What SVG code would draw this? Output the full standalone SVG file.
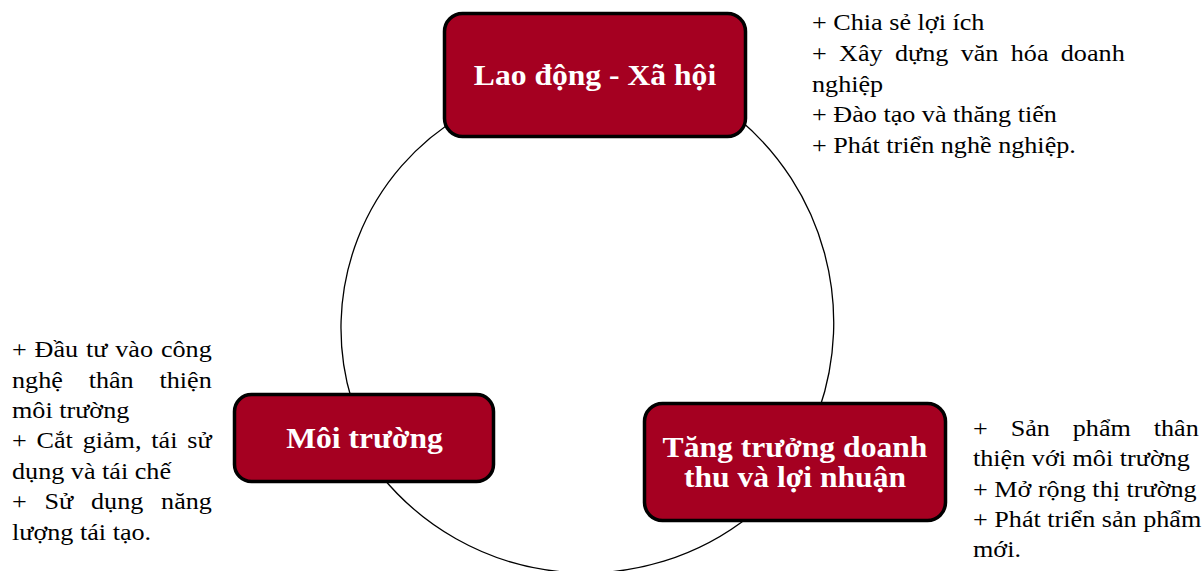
<svg xmlns="http://www.w3.org/2000/svg" width="1203" height="571" viewBox="0 0 1203 571">
<style>
.box{fill:#A50021;stroke:#000;stroke-width:3.5}
.conn{fill:none;stroke:#000;stroke-width:1.3}
.lbl{font-family:"Liberation Serif","Times New Roman",serif;font-weight:bold;font-size:29px;fill:#fff;text-anchor:middle}
.note{font-family:"Liberation Serif","Times New Roman","DejaVu Serif",serif;font-weight:normal;font-style:normal;font-size:24px;fill:#000}
</style>
<rect width="1203" height="571" fill="#fff"/>
<g id="connectors">
<path class="conn" d="M740,120 A266,266 0 0 1 819,410"/>
<path class="conn" d="M751,515 A264,264 0 0 1 380.7,475"/>
<path class="conn" d="M351.7,400 A247,247 0 0 1 463,115"/>
</g>
<g id="node-lao-dong">
<rect class="box" x="444.5" y="13.5" width="301" height="123" rx="18"/>
<text class="lbl" transform="translate(595,85) scale(1.09,1)" x="0" y="0">Lao động - Xã hội</text>
</g>
<g id="node-moi-truong">
<rect class="box" x="234.5" y="394.5" width="259" height="87" rx="17"/>
<text class="lbl" transform="translate(364.5,448) scale(1.09,1)" x="0" y="0">Môi trường</text>
</g>
<g id="node-tang-truong">
<rect class="box" x="644.5" y="403.5" width="301" height="117" rx="18"/>
<text class="lbl" transform="translate(795,0) scale(1.09,1)"><tspan x="0" y="457">Tăng trưởng doanh</tspan><tspan x="0" y="487">thu và lợi nhuận</tspan></text>
</g>
<g id="note-lao-dong" transform="translate(812,0) scale(1.09,1)" font-family="Liberation Serif, serif">
<text class="note" x="0" y="30">+ Chia sẻ lợi ích</text>
<text class="note" x="0" y="61" word-spacing="5.3">+ Xây dựng văn hóa doanh</text>
<text class="note" x="0" y="92">nghiệp</text>
<text class="note" x="0" y="122">+ Đào tạo và thăng tiến</text>
<text class="note" x="0" y="153">+ Phát triển nghề nghiệp.</text>
</g>
<g id="note-moi-truong" transform="translate(12,0) scale(1.09,1)">
<text class="note" x="0" y="357.5" word-spacing="1.2">+ Đầu tư vào công</text>
<text class="note" x="0" y="388" word-spacing="17.7">nghệ thân thiện</text>
<text class="note" x="0" y="418">môi trường</text>
<text class="note" x="0" y="448.5" word-spacing="3">+ Cắt giảm, tái sử</text>
<text class="note" x="0" y="479">dụng và tái chế</text>
<text class="note" x="0" y="509.5" word-spacing="10.3">+ Sử dụng năng</text>
<text class="note" x="0" y="540">lượng tái tạo.</text>
</g>
<g id="note-tang-truong" transform="translate(973,0) scale(1.09,1)">
<text class="note" x="0" y="436" word-spacing="15">+ Sản phẩm thân</text>
<text class="note" x="0" y="466.5">thiện với môi trường</text>
<text class="note" x="0" y="497">+ Mở rộng thị trường</text>
<text class="note" x="0" y="527">+ Phát triển sản phẩm</text>
<text class="note" x="0" y="557.5">mới.</text>
</g>
</svg>
